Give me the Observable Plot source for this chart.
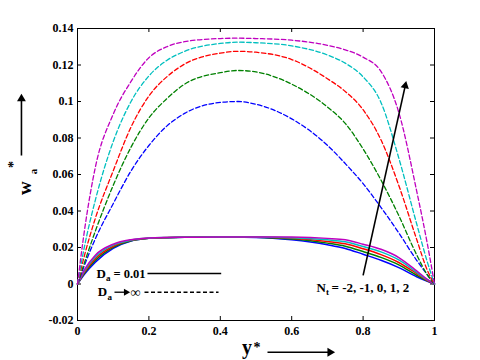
<!DOCTYPE html>
<html><head><meta charset="utf-8">
<script src="https://cdn.jsdelivr.net/npm/d3@7"></script>
<script src="https://cdn.jsdelivr.net/npm/@observablehq/plot@0.6"></script>
<style>body{margin:0;background:#fff}#chart svg{display:block}</style>
</head><body><div id="chart"></div>
<script>
// ---- data ----
const xTicks = [0, 0.2, 0.4, 0.6, 0.8, 1];
const yTicks = [-0.02, 0, 0.02, 0.04, 0.06, 0.08, 0.1, 0.12, 0.14];
const Nt = [-2, -1, 0, 1, 2];
const seriesColors = ["#0000ff", "#008000", "#ff0000", "#00bfbf", "#bf00bf"];
const yStar = [0, 0.02, 0.05, 0.1, 0.15, 0.2, 0.25, 0.3, 0.4, 0.45, 0.5, 0.6, 0.7, 0.75, 0.8, 0.85, 0.9, 0.95, 0.98, 1];
// Da -> infinity (dashed)
const dashedNtm2 = [0, 0.0105, 0.0248, 0.044, 0.062, 0.0759, 0.0865, 0.0935, 0.0995, 0.1, 0.0985, 0.0905, 0.076, 0.066, 0.055, 0.042, 0.028, 0.013, 0.005, 0];
const dashedNtm1 = [0, 0.012, 0.029, 0.054, 0.075, 0.091, 0.1015, 0.1095, 0.1158, 0.117, 0.1162, 0.1095, 0.097, 0.088, 0.074, 0.057, 0.0375, 0.016, 0.005, 0];
const dashedNt0 = [0, 0.016, 0.036, 0.062, 0.086, 0.103, 0.1135, 0.1205, 0.1265, 0.1275, 0.127, 0.123, 0.1125, 0.1055, 0.0955, 0.079, 0.054, 0.0245, 0.0075, 0];
const dashedNt1 = [0, 0.021, 0.046, 0.078, 0.100, 0.114, 0.1225, 0.1275, 0.1318, 0.1325, 0.1322, 0.1305, 0.1255, 0.121, 0.1135, 0.0995, 0.069, 0.033, 0.012, 0];
const dashedNt2 = [0, 0.030, 0.064, 0.093, 0.111, 0.124, 0.130, 0.1328, 0.1345, 0.1347, 0.1345, 0.1336, 0.1308, 0.1283, 0.1243, 0.1165, 0.094, 0.051, 0.022, 0];
// Da = 0.01 (solid)
const solidNtm2 = [0, 0.0055, 0.012, 0.0195, 0.0235, 0.025, 0.0254, 0.0256, 0.0257, 0.0256, 0.0255, 0.0242, 0.0215, 0.0195, 0.0163, 0.013, 0.009, 0.004, 0.0015, 0];
const solidNtm1 = [0, 0.0061, 0.013, 0.0201, 0.0237, 0.025, 0.0254, 0.0256, 0.0257, 0.0257, 0.0256, 0.0246, 0.0224, 0.0207, 0.0178, 0.0146, 0.0105, 0.0048, 0.0017, 0];
const solidNt0 = [0, 0.0067, 0.014, 0.0207, 0.0239, 0.0251, 0.0255, 0.0256, 0.0258, 0.0258, 0.0257, 0.025, 0.0233, 0.022, 0.0193, 0.0161, 0.0118, 0.0057, 0.0019, 0];
const solidNt1 = [0, 0.0074, 0.0149, 0.0213, 0.0241, 0.0252, 0.0255, 0.0256, 0.0258, 0.0258, 0.0258, 0.0254, 0.0242, 0.0231, 0.0205, 0.0176, 0.0132, 0.0064, 0.0022, 0];
const solidNt2 = [0, 0.008, 0.0158, 0.0218, 0.0243, 0.0252, 0.0255, 0.0256, 0.0258, 0.0258, 0.0258, 0.0257, 0.025, 0.0242, 0.0218, 0.019, 0.0145, 0.0072, 0.0025, 0];

const dashedSeries = [dashedNtm2, dashedNtm1, dashedNt0, dashedNt1, dashedNt2];
const solidSeries = [solidNtm2, solidNtm1, solidNt0, solidNt1, solidNt2];

function rows(series) {
  const out = [];
  series.forEach((vals, i) => vals.forEach((v, j) => out.push({x: yStar[j], y: v, nt: Nt[i]})));
  return out;
}
const dashedRows = rows(dashedSeries);
const solidRows = rows(solidSeries);

// ---- annotations (positions in data units) ----
const serif = "'Liberation Serif', 'Times New Roman', serif";
const labels = [
  {t: "D", x: 0.0532, y: 0.0057, dx: 0, dy: 0, size: 13},
  {t: "a", x: 0.0532, y: 0.0057, dx: 9.6, dy: 4.5, size: 9},
  {t: "= 0.01", x: 0.0532, y: 0.0057, dx: 17, dy: 0, size: 12.5},
  {t: "D", x: 0.0569, y: -0.0045, dx: 0, dy: 0, size: 13},
  {t: "a", x: 0.0569, y: -0.0045, dx: 9.6, dy: 4.5, size: 9},
  {t: "∞", x: 0.1625, y: -0.0045, dx: -5, dy: 0, size: 14},
  {t: "N", x: 0.6695, y: -0.0019, dx: 0, dy: 0, size: 13},
  {t: "t", x: 0.6695, y: -0.0019, dx: 9.4, dy: 4.5, size: 9},
  {t: "= -2, -1, 0, 1, 2", x: 0.6695, y: -0.0019, dx: 15, dy: 0, size: 13},
  {t: "y", x: 0.4748, y: -0.0346, dx: 0, dy: 0, size: 20, anchor: "middle"},
  {t: "*", x: 0.5028, y: -0.0349, dx: 0, dy: 0, size: 14, anchor: "middle"}
];
const rotLabels = [
  {t: "w", x: -0.1485, y: 0.0525, size: 19},
  {t: "*", x: -0.180, y: 0.0655, size: 14},
  {t: "a", x: -0.1232, y: 0.0616, size: 11}
];
const links = [
  {x1: 0.800, y1: 0.0047, x2: 0.918, y2: 0.1086, w: 1.6},
  {x1: -0.157, y1: 0.0704, x2: -0.157, y2: 0.1005, w: 1.6},
  {x1: 0.5322, y1: -0.0374, x2: 0.7073, y2: -0.0374, w: 1.6},
  {x1: 0.1036, y1: -0.0045, x2: 0.1345, y2: -0.0045, w: 1.3}
];
const heads = [
  {x: 0.918, y: 0.1086, r: 3.6, rot: 12.4},
  {x: -0.157, y: 0.1015, r: 4, rot: 0},
  {x: 0.7073, y: -0.0374, r: 4, rot: 90},
  {x: 0.1359, y: -0.0045, r: 2.6, rot: 90}
];
const legendLines = [
  {x1: 0.196, x2: 0.4025, y: 0.0057, dash: null},
  {x1: 0.1877, x2: 0.395, y: -0.0045, dash: "4,2.5"}
];

const fmt = d => String(+d.toFixed(2));
const frameW = 480 - 77 - 46, frameH = 360 - 28 - 40, tk = 4;

const chart = Plot.plot({
  width: 480, height: 360,
  marginLeft: 77, marginRight: 46, marginTop: 28, marginBottom: 40,
  x: {domain: [0, 1]},
  y: {domain: [-0.02, 0.14]},
  color: {domain: Nt, range: seriesColors},
  style: {fontFamily: serif, fontWeight: "bold", fontSize: "12px", background: "#fff", color: "#000", overflow: "visible"},
  marks: [
    Plot.axisX({ticks: xTicks, tickFormat: fmt, tickSize: 0, tickPadding: 6, label: null, fontWeight: "bold", fontSize: 12}),
    Plot.axisY({ticks: yTicks, tickFormat: fmt, tickSize: 0, tickPadding: 4, label: null, fontWeight: "bold", fontSize: 12}),
    Plot.tickY(yTicks, {y: d => d, insetRight: frameW - tk, stroke: "#000"}),
    Plot.tickY(yTicks, {y: d => d, insetLeft: frameW - tk, stroke: "#000"}),
    Plot.tickX(xTicks, {x: d => d, insetTop: frameH - tk, stroke: "#000"}),
    Plot.tickX(xTicks, {x: d => d, insetBottom: frameH - tk, stroke: "#000"}),
    Plot.frame({stroke: "#000"}),
    Plot.line(solidRows, {x: "x", y: "y", z: "nt", stroke: "nt", strokeWidth: 1.5, curve: "monotone-x"}),
    Plot.line(dashedRows, {x: "x", y: "y", z: "nt", stroke: "nt", strokeWidth: 1.3, strokeDasharray: "4.5,2.5", curve: "monotone-x"}),
    ...legendLines.map(l => Plot.link([l], {x1: "x1", x2: "x2", y1: "y", y2: "y", stroke: "#000", strokeWidth: 1.5, strokeDasharray: l.dash})),
    Plot.link(links, {x1: "x1", y1: "y1", x2: "x2", y2: "y2", stroke: "#000", strokeWidth: "w", clip: false}),
    Plot.dot(heads, {x: "x", y: "y", r: "r", rotate: "rot", symbol: "triangle", fill: "#000", stroke: "none"}),
    ...labels.map(l => Plot.text([l], {x: "x", y: "y", text: "t", dx: l.dx, dy: l.dy, fontSize: l.size,
      fontFamily: serif, fontWeight: "bold", textAnchor: l.anchor || "start", fill: "#000"})),
    ...rotLabels.map(l => Plot.text([l], {x: "x", y: "y", text: "t", rotate: -90, fontSize: l.size,
      fontFamily: serif, fontWeight: "bold", fill: "#000"}))
  ]
});
document.getElementById("chart").append(chart);
</script>
</body></html>
